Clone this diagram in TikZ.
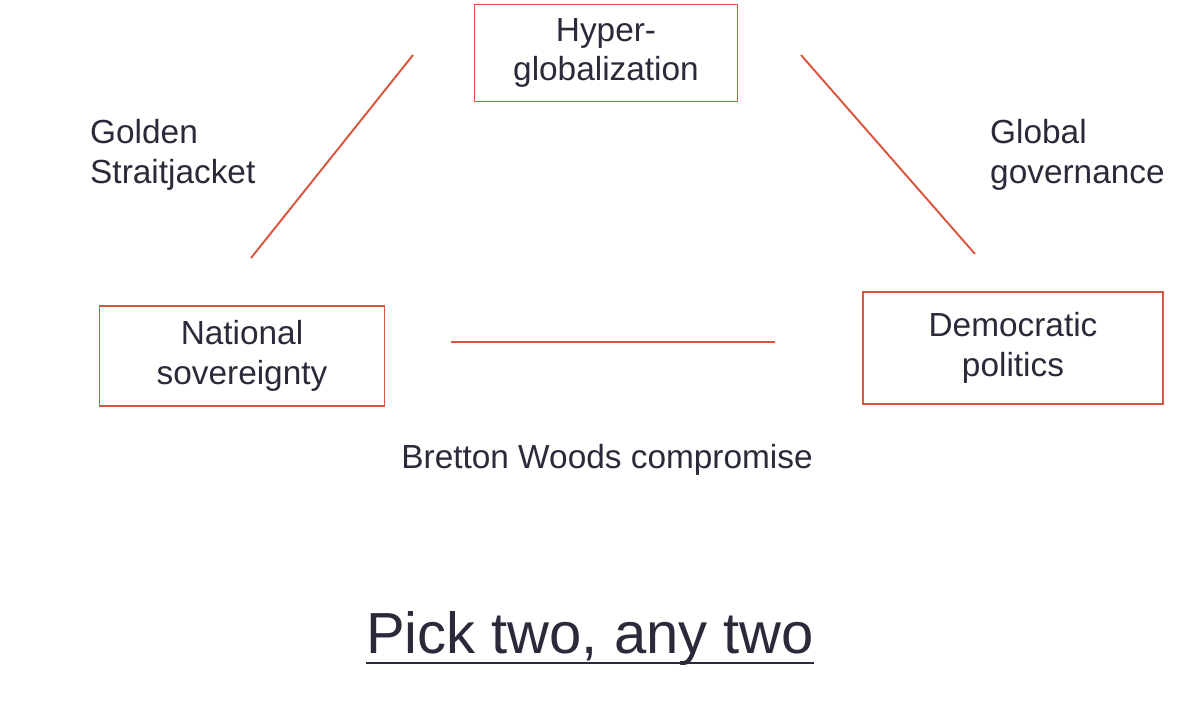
\documentclass[tikz,border=0pt]{standalone}
\usepackage{fontspec}
\setmainfont{Liberation Sans}
\usepackage{tikz}
\definecolor{edgered}{HTML}{D9553D}
\definecolor{inkdark}{HTML}{2B2A3A}

\begin{document}
\begin{tikzpicture}[x=0.02cm,y=-0.02cm,
        trilemma/.style={draw=edgered,line width=1.1pt,align=center,text=inkdark,
            font=\fontsize{19pt}{22.7pt}\selectfont,inner sep=0pt},
        side/.style={align=left,text=inkdark,font=\fontsize{19pt}{22.7pt}\selectfont},
        link/.style={draw=edgered,line width=1.1pt}]
        \useasboundingbox (0,0) rectangle (1200,704);

        \node[trilemma,minimum width=5.26cm,minimum height=1.94cm] (H) at (606,53) {Hyper-\\globalization};
        \node[trilemma,minimum width=5.7cm,minimum height=2.0cm]   (N) at (242,356) {National\\sovereignty};
        \node[trilemma,minimum width=6.0cm,minimum height=2.24cm]  (D) at (1013,348) {Democratic\\politics};

        \coordinate (HL) at (413,55);
        \coordinate (NL) at (251,258);
        \coordinate (HR) at (801,55);
        \coordinate (DR) at (975,254);
        \coordinate (NB) at (451,342);
        \coordinate (DB) at (775,342);

        \path [link](HL) edge (NL);
        \path [link](HR) edge (DR);
        \path [link](NB) edge (DB);

        \node[side,anchor=west] (golden) at (84,155) {Golden\\Straitjacket};
        \node[side,anchor=west] (global) at (984,155) {Global\\governance};
        \node[side] (bretton) at (607,460) {Bretton Woods compromise};
        \node[text=inkdark,font=\fontsize{33pt}{38pt}\selectfont] (pick) at (590,638) {Pick two, any two};
        \draw[inkdark,line width=1.6pt] ([xshift=0.12cm,yshift=-0.2cm]pick.base west) -- ([xshift=-0.12cm,yshift=-0.2cm]pick.base east);
    \end{tikzpicture}
\end{document}
